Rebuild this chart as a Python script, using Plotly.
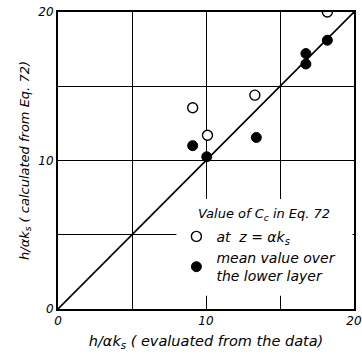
import plotly.graph_objects as go

# Data
open_x = [18.2, 13.3, 9.1, 10.1]
open_y = [20.0, 14.4, 13.55, 11.7]
filled_x = [18.2, 16.75, 16.75, 13.4, 9.1, 10.05]
filled_y = [18.1, 17.2, 16.5, 11.55, 11.0, 10.25]
line_x = [0, 20]
line_y = [0, 20]
tick_vals = [0, 10, 20]
tick_text = ["0", "10", "20"]
minor_vals = [5, 15]

FONT = "DejaVu Sans"

fig = go.Figure()
fig.add_trace(go.Scatter(x=line_x, y=line_y, mode="lines",
                         line=dict(color="black", width=1.6),
                         showlegend=False, hoverinfo="skip"))
fig.add_trace(go.Scatter(x=open_x, y=open_y, mode="markers",
                         name="at  z = αk<sub>s</sub>",
                         marker=dict(symbol="circle", size=10, color="white",
                                     line=dict(color="black", width=1.4))))
fig.add_trace(go.Scatter(x=filled_x, y=filled_y, mode="markers",
                         name="mean value over<br>the lower layer",
                         marker=dict(symbol="circle", size=10, color="black",
                                     line=dict(color="black", width=1))))

axis_common = dict(
    range=[0, 20], tickvals=tick_vals, ticktext=tick_text,
    showgrid=True, gridcolor="black", gridwidth=1.3,
    minor=dict(tickvals=minor_vals, showgrid=True, gridcolor="black",
               gridwidth=1.3, ticks=""),
    showline=True, linecolor="black", linewidth=2, mirror=True,
    zeroline=False, ticks="", automargin=False,
    tickfont=dict(family=FONT, size=12, color="black", style="italic"),
    fixedrange=True,
)

fig.update_xaxes(**axis_common,
                 title=dict(text="h/αk<sub>s</sub> ( evaluated from the data)",
                            font=dict(family=FONT, size=14.5, color="black", style="italic"),
                            standoff=8))
fig.update_yaxes(**axis_common,
                 title=dict(text="h/αk<sub>s</sub> ( calculated from Eq. 72)",
                            font=dict(family=FONT, size=13, color="black", style="italic"),
                            standoff=6))

# white panel behind the legend, hiding the grid there
fig.add_shape(type="rect", xref="x", yref="y", x0=8.0, x1=19.9, y0=0.9, y1=7.4,
              fillcolor="white", line=dict(width=0), layer="between")

fig.add_annotation(text="Value of C<sub>c</sub> in Eq. 72", xref="x", yref="y",
                   x=9.3, y=6.35, xanchor="left", yanchor="middle", showarrow=False,
                   font=dict(family=FONT, size=13, color="black", style="italic"))

fig.update_layout(
    width=362, height=359,
    margin=dict(l=58, r=8, t=12, b=50),
    plot_bgcolor="white", paper_bgcolor="white",
    showlegend=True,
    legend=dict(
        x=0.4, y=0.297, xanchor="left", yanchor="top",
        bgcolor="rgba(0,0,0,0)", borderwidth=0,
        font=dict(family=FONT, size=14, color="black", style="italic"),
        itemwidth=30, tracegroupgap=3,
    ),
)

fig.write_html("out.html")
